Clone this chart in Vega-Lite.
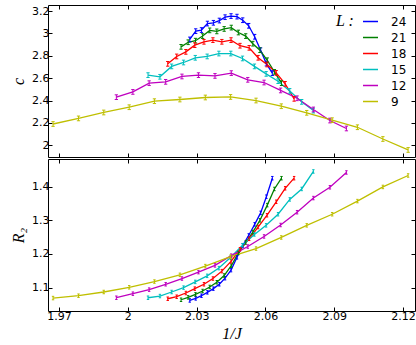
{
  "$schema": "https://vega.github.io/schema/vega-lite/v6.json",
  "padding": {"left": 10, "top": 4, "right": 4, "bottom": 4},
  "spacing": 0,
  "config": {
    "view": {"stroke": "black", "strokeWidth": 1},
    "axis": {"domain": false, "grid": false, "tickColor": "black", "tickSize": -4, "labelFont": "DejaVu Sans", "labelFontSize": 11, "labelColor": "black", "labelPadding": 3, "titleFont": "Liberation Serif", "titleFontStyle": "italic", "titleFontWeight": "normal", "titleFontSize": 16, "titleColor": "black"}
  },
  "datasets": {
    "d": [
      {"L": 24, "x": 2.0270, "c": 2.946, "r": 1.062},
      {"L": 24, "x": 2.0296, "c": 3.020, "r": 1.068},
      {"L": 24, "x": 2.0321, "c": 3.030, "r": 1.076},
      {"L": 24, "x": 2.0347, "c": 3.088, "r": 1.086},
      {"L": 24, "x": 2.0373, "c": 3.095, "r": 1.097},
      {"L": 24, "x": 2.0399, "c": 3.115, "r": 1.110},
      {"L": 24, "x": 2.0424, "c": 3.145, "r": 1.128},
      {"L": 24, "x": 2.0450, "c": 3.155, "r": 1.152},
      {"L": 24, "x": 2.0476, "c": 3.150, "r": 1.190},
      {"L": 24, "x": 2.0501, "c": 3.118, "r": 1.225},
      {"L": 24, "x": 2.0527, "c": 3.068, "r": 1.255},
      {"L": 24, "x": 2.0553, "c": 2.970, "r": 1.288},
      {"L": 24, "x": 2.0579, "c": 2.850, "r": 1.322},
      {"L": 24, "x": 2.0604, "c": 2.730, "r": 1.370},
      {"L": 24, "x": 2.0630, "c": 2.645, "r": 1.425},
      {"L": 21, "x": 2.0232, "c": 2.880, "r": 1.064},
      {"L": 21, "x": 2.0263, "c": 2.921, "r": 1.071},
      {"L": 21, "x": 2.0295, "c": 2.935, "r": 1.080},
      {"L": 21, "x": 2.0326, "c": 2.976, "r": 1.090},
      {"L": 21, "x": 2.0357, "c": 3.027, "r": 1.102},
      {"L": 21, "x": 2.0388, "c": 3.018, "r": 1.116},
      {"L": 21, "x": 2.0420, "c": 3.040, "r": 1.136},
      {"L": 21, "x": 2.0451, "c": 3.052, "r": 1.165},
      {"L": 21, "x": 2.0482, "c": 3.008, "r": 1.203},
      {"L": 21, "x": 2.0514, "c": 2.976, "r": 1.234},
      {"L": 21, "x": 2.0545, "c": 2.908, "r": 1.265},
      {"L": 21, "x": 2.0576, "c": 2.850, "r": 1.300},
      {"L": 21, "x": 2.0608, "c": 2.760, "r": 1.345},
      {"L": 21, "x": 2.0639, "c": 2.656, "r": 1.393},
      {"L": 21, "x": 2.0670, "c": 2.555, "r": 1.425},
      {"L": 18, "x": 2.0174, "c": 2.728, "r": 1.067},
      {"L": 18, "x": 2.0213, "c": 2.794, "r": 1.073},
      {"L": 18, "x": 2.0253, "c": 2.835, "r": 1.084},
      {"L": 18, "x": 2.0292, "c": 2.895, "r": 1.097},
      {"L": 18, "x": 2.0332, "c": 2.925, "r": 1.110},
      {"L": 18, "x": 2.0371, "c": 2.940, "r": 1.127},
      {"L": 18, "x": 2.0410, "c": 2.925, "r": 1.149},
      {"L": 18, "x": 2.0450, "c": 2.940, "r": 1.178},
      {"L": 18, "x": 2.0489, "c": 2.890, "r": 1.214},
      {"L": 18, "x": 2.0529, "c": 2.871, "r": 1.245},
      {"L": 18, "x": 2.0568, "c": 2.782, "r": 1.280},
      {"L": 18, "x": 2.0607, "c": 2.722, "r": 1.315},
      {"L": 18, "x": 2.0647, "c": 2.647, "r": 1.355},
      {"L": 18, "x": 2.0686, "c": 2.549, "r": 1.395},
      {"L": 18, "x": 2.0725, "c": 2.415, "r": 1.425},
      {"L": 15, "x": 2.0088, "c": 2.627, "r": 1.070},
      {"L": 15, "x": 2.0140, "c": 2.612, "r": 1.075},
      {"L": 15, "x": 2.0191, "c": 2.705, "r": 1.087},
      {"L": 15, "x": 2.0243, "c": 2.740, "r": 1.100},
      {"L": 15, "x": 2.0294, "c": 2.782, "r": 1.117},
      {"L": 15, "x": 2.0346, "c": 2.794, "r": 1.135},
      {"L": 15, "x": 2.0397, "c": 2.820, "r": 1.158},
      {"L": 15, "x": 2.0449, "c": 2.820, "r": 1.190},
      {"L": 15, "x": 2.0500, "c": 2.776, "r": 1.226},
      {"L": 15, "x": 2.0552, "c": 2.705, "r": 1.258},
      {"L": 15, "x": 2.0603, "c": 2.638, "r": 1.285},
      {"L": 15, "x": 2.0655, "c": 2.573, "r": 1.318},
      {"L": 15, "x": 2.0706, "c": 2.486, "r": 1.362},
      {"L": 15, "x": 2.0758, "c": 2.388, "r": 1.393},
      {"L": 15, "x": 2.0809, "c": 2.310, "r": 1.445},
      {"L": 12, "x": 1.9950, "c": 2.430, "r": 1.070},
      {"L": 12, "x": 2.0022, "c": 2.477, "r": 1.082},
      {"L": 12, "x": 2.0093, "c": 2.555, "r": 1.094},
      {"L": 12, "x": 2.0165, "c": 2.567, "r": 1.110},
      {"L": 12, "x": 2.0236, "c": 2.615, "r": 1.127},
      {"L": 12, "x": 2.0308, "c": 2.627, "r": 1.146},
      {"L": 12, "x": 2.0380, "c": 2.620, "r": 1.166},
      {"L": 12, "x": 2.0451, "c": 2.645, "r": 1.195},
      {"L": 12, "x": 2.0523, "c": 2.585, "r": 1.222},
      {"L": 12, "x": 2.0594, "c": 2.561, "r": 1.252},
      {"L": 12, "x": 2.0666, "c": 2.490, "r": 1.286},
      {"L": 12, "x": 2.0738, "c": 2.420, "r": 1.324},
      {"L": 12, "x": 2.0809, "c": 2.320, "r": 1.366},
      {"L": 12, "x": 2.0881, "c": 2.221, "r": 1.398},
      {"L": 12, "x": 2.0953, "c": 2.150, "r": 1.442},
      {"L": 9, "x": 1.9674, "c": 2.190, "r": 1.069},
      {"L": 9, "x": 1.9785, "c": 2.240, "r": 1.076},
      {"L": 9, "x": 1.9895, "c": 2.293, "r": 1.087},
      {"L": 9, "x": 2.0006, "c": 2.340, "r": 1.101},
      {"L": 9, "x": 2.0116, "c": 2.394, "r": 1.118},
      {"L": 9, "x": 2.0227, "c": 2.409, "r": 1.138},
      {"L": 9, "x": 2.0338, "c": 2.427, "r": 1.164},
      {"L": 9, "x": 2.0448, "c": 2.432, "r": 1.192},
      {"L": 9, "x": 2.0559, "c": 2.400, "r": 1.216},
      {"L": 9, "x": 2.0669, "c": 2.349, "r": 1.249},
      {"L": 9, "x": 2.0780, "c": 2.290, "r": 1.285},
      {"L": 9, "x": 2.0891, "c": 2.224, "r": 1.318},
      {"L": 9, "x": 2.1001, "c": 2.161, "r": 1.357},
      {"L": 9, "x": 2.1112, "c": 2.056, "r": 1.399},
      {"L": 9, "x": 2.1222, "c": 1.958, "r": 1.433}
    ]
  },
  "vconcat": [
    {
      "width": 367,
      "height": 152,
      "data": {"name": "d"},
      "layer": [
        {
          "mark": {"type": "line", "strokeWidth": 1.3},
          "encoding": {
            "x": {"field": "x", "type": "quantitative", "scale": {"domain": [1.9652, 2.1252], "nice": false, "zero": false}, "axis": {"orient": "bottom", "values": [1.97, 2, 2.03, 2.06, 2.09, 2.12], "labels": false, "title": null}},
            "y": {"field": "c", "type": "quantitative", "scale": {"domain": [1.895, 3.254], "nice": false, "zero": false}, "axis": {"orient": "left", "values": [2, 2.2, 2.4, 2.6, 2.8, 3, 3.2], "format": "~g", "title": "c", "titlePadding": 5}},
            "color": {"field": "L", "type": "nominal", "scale": {"domain": [24, 21, 18, 15, 12, 9], "range": ["#0000ff", "#008000", "#ff0000", "#00bfbf", "#bf00bf", "#bfbf00"]},
              "legend": {"orient": "top-right", "offset": 8, "padding": 0, "title": "L :", "titleOrient": "left", "titleAnchor": "start", "titleFont": "Liberation Serif", "titleFontStyle": "italic", "titleFontWeight": "normal", "titleFontSize": 16, "titleColor": "black", "titlePadding": 7, "symbolType": "stroke", "symbolSize": 225, "symbolStrokeWidth": 1.5, "labelFont": "DejaVu Sans", "labelFontSize": 12, "labelColor": "black", "labelOffset": 12, "rowPadding": 1}}
          }
        },
        {
          "mark": {"type": "point", "shape": "M-0.7,-1H0.7M0,-1V1M-0.7,1H0.7", "filled": false, "size": 22, "strokeWidth": 1, "opacity": 1},
          "encoding": {
            "x": {"field": "x", "type": "quantitative", "scale": {"domain": [1.9652, 2.1252], "nice": false, "zero": false}, "axis": {"orient": "top", "values": [1.97, 2, 2.03, 2.06, 2.09, 2.12], "labels": false, "title": null}},
            "y": {"field": "c", "type": "quantitative", "scale": {"domain": [1.895, 3.254], "nice": false, "zero": false}, "axis": {"orient": "right", "values": [2, 2.2, 2.4, 2.6, 2.8, 3, 3.2], "labels": false, "title": null}},
            "color": {"field": "L", "type": "nominal", "scale": {"domain": [24, 21, 18, 15, 12, 9], "range": ["#0000ff", "#008000", "#ff0000", "#00bfbf", "#bf00bf", "#bfbf00"]}}
          }
        }
      ],
      "resolve": {"axis": {"x": "independent", "y": "independent"}}
    },
    {
      "width": 367,
      "height": 152,
      "data": {"name": "d"},
      "layer": [
        {
          "mark": {"type": "line", "strokeWidth": 1.3},
          "encoding": {
            "x": {"field": "x", "type": "quantitative", "scale": {"domain": [1.9652, 2.1252], "nice": false, "zero": false}, "axis": {"orient": "bottom", "values": [1.97, 2, 2.03, 2.06, 2.09, 2.12], "format": "~g", "title": "1/J", "titlePadding": 4}},
            "y": {"field": "r", "type": "quantitative", "scale": {"domain": [1.0306, 1.482], "nice": false, "zero": false}, "axis": {"orient": "left", "values": [1.1, 1.2, 1.3, 1.4], "format": ".1f", "title": "R₂", "titlePadding": 5}},
            "color": {"field": "L", "type": "nominal", "scale": {"domain": [24, 21, 18, 15, 12, 9], "range": ["#0000ff", "#008000", "#ff0000", "#00bfbf", "#bf00bf", "#bfbf00"]}, "legend": null}
          }
        },
        {
          "mark": {"type": "point", "shape": "M-0.7,-1H0.7M0,-1V1M-0.7,1H0.7", "filled": false, "size": 12, "strokeWidth": 1, "opacity": 1},
          "encoding": {
            "x": {"field": "x", "type": "quantitative", "scale": {"domain": [1.9652, 2.1252], "nice": false, "zero": false}, "axis": {"orient": "top", "values": [1.97, 2, 2.03, 2.06, 2.09, 2.12], "labels": false, "title": null}},
            "y": {"field": "r", "type": "quantitative", "scale": {"domain": [1.0306, 1.482], "nice": false, "zero": false}, "axis": {"orient": "right", "values": [1.1, 1.2, 1.3, 1.4], "labels": false, "title": null}},
            "color": {"field": "L", "type": "nominal", "scale": {"domain": [24, 21, 18, 15, 12, 9], "range": ["#0000ff", "#008000", "#ff0000", "#00bfbf", "#bf00bf", "#bfbf00"]}, "legend": null}
          }
        }
      ],
      "resolve": {"axis": {"x": "independent", "y": "independent"}}
    }
  ],
  "resolve": {"scale": {"color": "independent"}, "legend": {"color": "independent"}}
}
